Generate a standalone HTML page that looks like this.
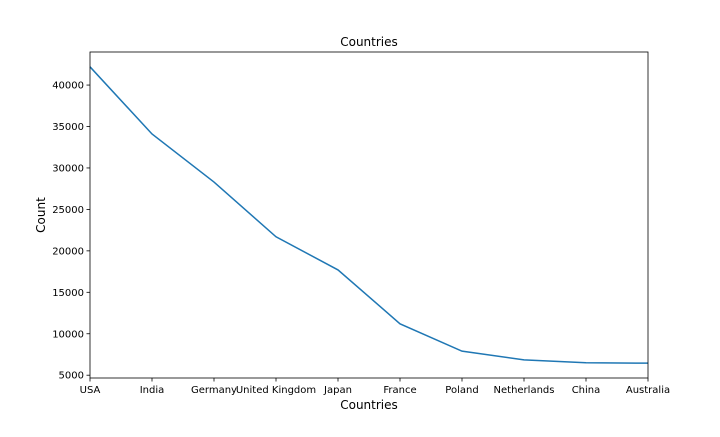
<!DOCTYPE html>
<html><head><meta charset="utf-8"><style>
body{margin:0;background:#fff;}
text{font-family:"DejaVu Sans","Liberation Sans",sans-serif;}
</style></head><body>
<svg id="chart" width="720" height="432" xmlns="http://www.w3.org/2000/svg">
<rect width="720" height="432" fill="#fff"/>
<g id="g"></g>
</svg>
<script>
const categories=["USA","India","Germany","United Kingdom","Japan","France","Poland","Netherlands","China","Australia"];
const counts=[42200,34100,28300,21700,17700,11200,7900,6850,6500,6450];
const yTicks=[5000,10000,15000,20000,25000,30000,35000,40000];
const L=90,R=648,T=52,B=378;
const mn=Math.min(...counts),mx=Math.max(...counts),pad=(mx-mn)*0.05;
const y0=mn-pad,y1=mx+pad;
const xs=i=>L+i*(R-L)/(categories.length-1);
const ys=v=>B-(v-y0)/(y1-y0)*(B-T);
const g=document.getElementById('g');
const NS="http://www.w3.org/2000/svg";
function mk(t,a,txt){const e=document.createElementNS(NS,t);for(const k in a)e.setAttribute(k,a[k]);if(txt!==undefined)e.textContent=txt;g.appendChild(e);return e;}
yTicks.forEach(v=>{const y=ys(v);
const tk=mk('line',{x1:L-3.5,x2:L,y1:y,y2:y,stroke:'#000','stroke-width':0.8});


const lb=mk('text',{x:L-6,y:y+3.5,'text-anchor':'end','font-size':10},v);


});
categories.forEach((c,i)=>{const x=xs(i);
const tk=mk('line',{x1:x,x2:x,y1:B,y2:B+3.5,stroke:'#000','stroke-width':0.8});


const lb=mk('text',{x:x,y:B+15,'text-anchor':'middle','font-size':10},c);


});
const line=mk('polyline',{points:counts.map((v,i)=>xs(i)+','+ys(v)).join(' '),fill:'none',stroke:'#1f77b4','stroke-width':1.5});


const fr=mk('rect',{x:L,y:T,width:R-L,height:B-T,fill:'none',stroke:'#000','stroke-width':0.8});


const ti=mk('text',{x:(L+R)/2,y:T-6,'text-anchor':'middle','font-size':12},'Countries');


const xt=mk('text',{x:(L+R)/2,y:409,'text-anchor':'middle','font-size':12},'Countries');


const yt=mk('text',{x:45,y:(T+B)/2,'text-anchor':'middle','font-size':12,transform:'rotate(-90 45 '+(T+B)/2+')'},'Count');


</script>
</body></html>
